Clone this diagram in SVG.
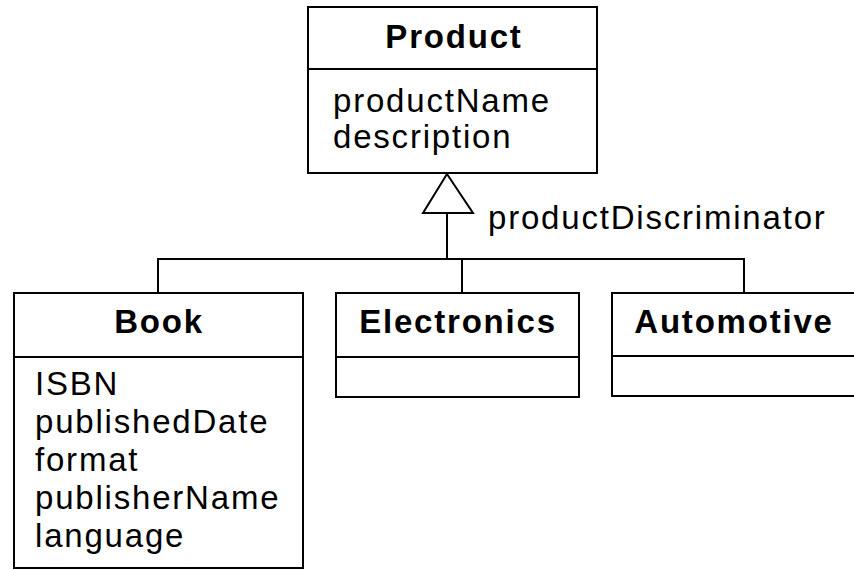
<svg xmlns="http://www.w3.org/2000/svg" width="854" height="570" viewBox="0 0 854 570">
<style>
.box{fill:#fff;stroke:#000;stroke-width:2}
.ln{fill:none;stroke:#000;stroke-width:2}
.t{font-family:"Liberation Sans",Arial,sans-serif;font-size:33px;fill:#000;letter-spacing:1.8px}
.b{font-weight:bold;text-anchor:middle}
</style>
<rect width="854" height="570" fill="#fff"/>
<g id="connectors">
<polyline class="ln" points="447,213 447,259"/>
<polyline class="ln" points="157,259 745,259"/>
<polyline class="ln" points="158,259 158,293"/>
<polyline class="ln" points="462,259 462,293"/>
<polyline class="ln" points="744,259 744,293"/>
<polygon class="box" points="447,174 423,213 473,213"/>
<text class="t" x="488" y="229">productDiscriminator</text>
</g>
<g id="product">
<rect class="box" x="308" y="7" width="289" height="166"/>
<line class="ln" x1="308" y1="69" x2="597" y2="69"/>
<text class="t b" x="454" y="48">Product</text>
<text class="t" x="333" y="112">productName</text>
<text class="t" x="333" y="148">description</text>
</g>
<g id="book">
<rect class="box" x="14" y="293" width="289" height="275"/>
<line class="ln" x1="14" y1="357" x2="303" y2="357"/>
<text class="t b" x="159" y="333">Book</text>
<text class="t" x="35" y="395">ISBN</text>
<text class="t" x="35" y="433">publishedDate</text>
<text class="t" x="35" y="471">format</text>
<text class="t" x="35" y="509">publisherName</text>
<text class="t" x="35" y="547">language</text>
</g>
<g id="electronics">
<rect class="box" x="336" y="293" width="243" height="104"/>
<line class="ln" x1="336" y1="357" x2="579" y2="357"/>
<text class="t b" x="458" y="333">Electronics</text>
</g>
<g id="automotive">
<rect class="box" x="612" y="293" width="244" height="103"/>
<line class="ln" x1="612" y1="356" x2="856" y2="356"/>
<text class="t b" x="734" y="333">Automotive</text>
</g>
</svg>
